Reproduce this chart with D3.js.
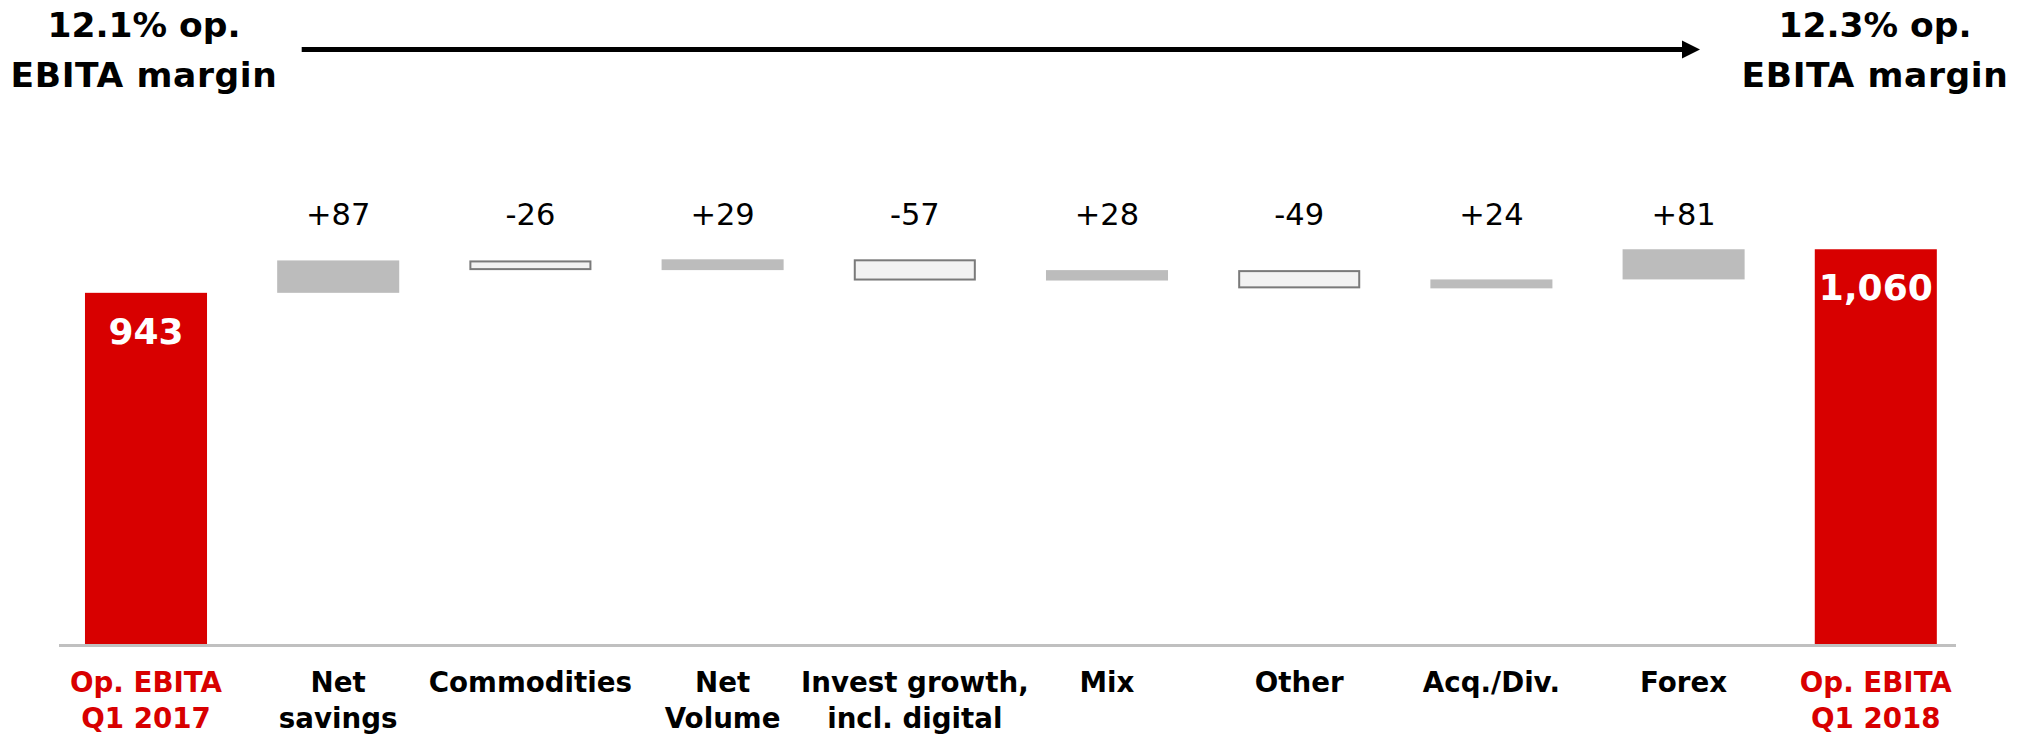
<!DOCTYPE html>
<html>
<head>
<meta charset="utf-8">
<script src="https://cdn.jsdelivr.net/npm/d3@7"></script>
<style>
  html, body { margin: 0; padding: 0; background: #ffffff; }
  svg { display: block; }
</style>
</head>
<body>
<script>
// ---- data ----
const categories = ["Op. EBITA\nQ1 2017", "Net\nsavings", "Commodities", "Net\nVolume",
  "Invest growth,\nincl. digital", "Mix", "Other", "Acq./Div.", "Forex", "Op. EBITA\nQ1 2018"];
const startValue = 943;
const deltas = [87, -26, 29, -57, 28, -49, 24, 81];
const endValue = 1060;
const valueLabels = ["943", "+87", "-26", "+29", "-57", "+28", "-49", "+24", "+81", "1,060"];
const marginLabels = ["12.1% op.\nEBITA margin", "12.3% op.\nEBITA margin"];

// ---- layout ----
const W = 2030, H = 736;
const RED = "#d80000", GRAY = "#bcbcbc", NEG_FILL = "#f2f2f2", NEG_STROKE = "#7a7a7a";
const FONT = "'DejaVu Sans', Verdana, sans-serif";

const svg = d3.select("body").append("svg").attr("width", W).attr("height", H);
svg.append("rect").attr("width", W).attr("height", H).attr("fill", "#fff");

const x = d3.scaleBand().domain(categories).range([49.9, 1971.9])
  .paddingInner(0.365).paddingOuter(0.1825);
const y = d3.scaleLinear().domain([0, 1100]).range([644, 644 - 1100 * 0.3724]);

// build waterfall segments
const bars = [];
bars.push({cat: categories[0], y0: 0, y1: startValue, type: "total"});
let run = startValue;
deltas.forEach((d, i) => {
  const a = run, b = run + d;
  bars.push({cat: categories[i + 1], y0: Math.min(a, b), y1: Math.max(a, b), type: d >= 0 ? "pos" : "neg"});
  run = b;
});
bars.push({cat: categories[categories.length - 1], y0: 0, y1: endValue, type: "total"});

// bars
const sw = 2;
svg.append("g").selectAll("rect").data(bars).join("rect")
  .attr("x", d => x(d.cat) + (d.type === "neg" ? sw / 2 : 0))
  .attr("width", d => x.bandwidth() - (d.type === "neg" ? sw : 0))
  .attr("y", d => y(d.y1) + (d.type === "neg" ? sw / 2 : 0))
  .attr("height", d => y(d.y0) - y(d.y1) - (d.type === "neg" ? sw : 0))
  .attr("fill", d => d.type === "total" ? RED : d.type === "pos" ? GRAY : NEG_FILL)
  .attr("stroke", d => d.type === "neg" ? NEG_STROKE : "none")
  .attr("stroke-width", sw);

// baseline axis
const axis = svg.append("g").attr("transform", "translate(0,645.5)")
  .call(d3.axisBottom(x).tickSize(0).tickFormat(""));
axis.select(".domain").attr("stroke", "#c0c0c0").attr("stroke-width", 3)
  .attr("d", "M59,0H1956");

// category labels
const catG = svg.append("g");
categories.forEach((c, i) => {
  const t = catG.append("text")
    .attr("x", x(c) + x.bandwidth() / 2)
    .attr("y", 691.5)
    .attr("text-anchor", "middle")
    .attr("font-family", FONT).attr("font-weight", "bold").attr("font-size", 27.7)
    .attr("fill", (i === 0 || i === categories.length - 1) ? RED : "#000");
  c.split("\n").forEach((line, j) => {
    t.append("tspan").attr("x", x(c) + x.bandwidth() / 2).attr("dy", j === 0 ? 0 : 36).text(line);
  });
});

// value labels
bars.forEach((b, i) => {
  const cx = x(b.cat) + x.bandwidth() / 2;
  if (b.type === "total") {
    svg.append("text").attr("x", cx).attr("y", y(b.y1) + 51)
      .attr("text-anchor", "middle").attr("font-family", FONT).attr("font-weight", "bold")
      .attr("font-size", 36).attr("fill", "#fff").text(valueLabels[i]);
  } else {
    svg.append("text").attr("x", cx).attr("y", 225)
      .attr("text-anchor", "middle").attr("font-family", FONT)
      .attr("font-size", 30.5).attr("fill", "#000").text(valueLabels[i]);
  }
});

// margin headers
[[144, marginLabels[0]], [1875, marginLabels[1]]].forEach(([cx, txt]) => {
  const t = svg.append("text").attr("x", cx).attr("y", 36.7)
    .attr("text-anchor", "middle").attr("font-family", FONT).attr("font-weight", "bold")
    .attr("font-size", 34.5).attr("fill", "#000");
  txt.split("\n").forEach((line, j) => {
    t.append("tspan").attr("x", cx).attr("dy", j === 0 ? 0 : 50.6)
      .attr("letter-spacing", j === 0 ? 0 : 0.6).text(line);
  });
});

// arrow
svg.append("line").attr("x1", 301.7).attr("x2", 1684).attr("y1", 49.5).attr("y2", 49.5)
  .attr("stroke", "#000").attr("stroke-width", 5);
svg.append("path").attr("d", "M1682,40.5L1700,49.5L1682,58.5Z").attr("fill", "#000");
</script>
</body>
</html>
